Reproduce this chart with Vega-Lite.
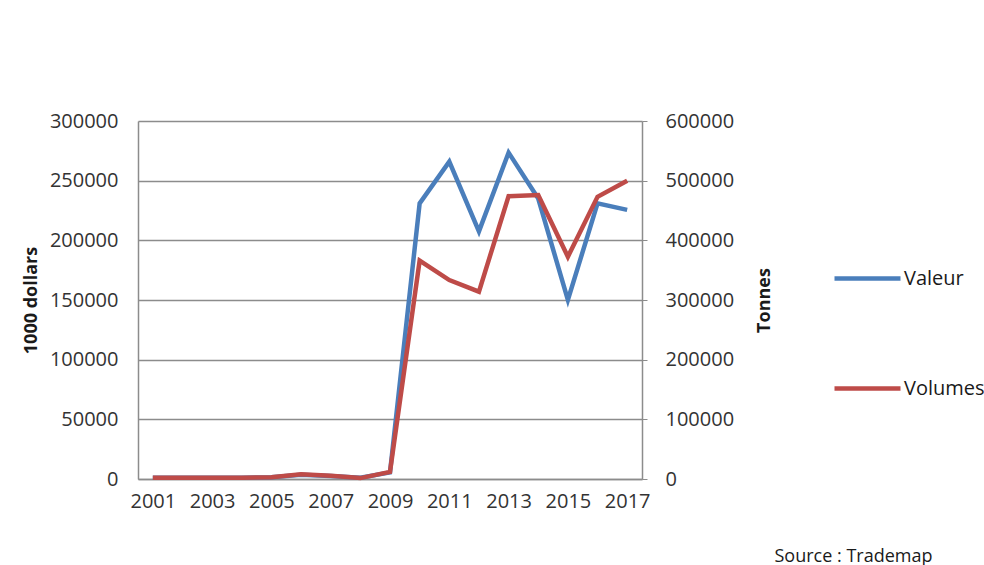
{
  "$schema": "https://vega.github.io/schema/vega-lite/v6.json",
  "width": 504,
  "height": 358,
  "autosize": {"type": "none"},
  "padding": {"left": 138, "top": 121, "right": 342, "bottom": 86},
  "background": "white",
  "config": {
    "font": "Open Sans",
    "view": {"stroke": null},
    "axis": {"labelFont": "Open Sans", "labelFontSize": 20, "labelColor": "#333333", "titleFont": "Open Sans", "titleColor": "#1a1a1a", "titleFontSize": 18, "titleFontWeight": "bold"}
  },
  "data": {
    "values": [
      {"annee": 2001, "serie": "Valeur", "valeur": 1000},
      {"annee": 2002, "serie": "Valeur", "valeur": 1000},
      {"annee": 2003, "serie": "Valeur", "valeur": 1000},
      {"annee": 2004, "serie": "Valeur", "valeur": 1000},
      {"annee": 2005, "serie": "Valeur", "valeur": 1500},
      {"annee": 2006, "serie": "Valeur", "valeur": 3500},
      {"annee": 2007, "serie": "Valeur", "valeur": 2500},
      {"annee": 2008, "serie": "Valeur", "valeur": 1000},
      {"annee": 2009, "serie": "Valeur", "valeur": 5500},
      {"annee": 2010, "serie": "Valeur", "valeur": 231000},
      {"annee": 2011, "serie": "Valeur", "valeur": 266000},
      {"annee": 2012, "serie": "Valeur", "valeur": 207500},
      {"annee": 2013, "serie": "Valeur", "valeur": 273500},
      {"annee": 2014, "serie": "Valeur", "valeur": 235000},
      {"annee": 2015, "serie": "Valeur", "valeur": 150000},
      {"annee": 2016, "serie": "Valeur", "valeur": 231000},
      {"annee": 2017, "serie": "Valeur", "valeur": 225500},
      {"annee": 2001, "serie": "Volumes", "valeur": 2000},
      {"annee": 2002, "serie": "Volumes", "valeur": 2000},
      {"annee": 2003, "serie": "Volumes", "valeur": 2000},
      {"annee": 2004, "serie": "Volumes", "valeur": 2000},
      {"annee": 2005, "serie": "Volumes", "valeur": 3000},
      {"annee": 2006, "serie": "Volumes", "valeur": 8000},
      {"annee": 2007, "serie": "Volumes", "valeur": 5500},
      {"annee": 2008, "serie": "Volumes", "valeur": 1500},
      {"annee": 2009, "serie": "Volumes", "valeur": 12000},
      {"annee": 2010, "serie": "Volumes", "valeur": 366000},
      {"annee": 2011, "serie": "Volumes", "valeur": 333500},
      {"annee": 2012, "serie": "Volumes", "valeur": 314000},
      {"annee": 2013, "serie": "Volumes", "valeur": 474000},
      {"annee": 2014, "serie": "Volumes", "valeur": 476000},
      {"annee": 2015, "serie": "Volumes", "valeur": 372500},
      {"annee": 2016, "serie": "Volumes", "valeur": 473000},
      {"annee": 2017, "serie": "Volumes", "valeur": 500000}
    ]
  },
  "encoding": {
    "x": {
      "field": "annee",
      "type": "ordinal",
      "scale": {"type": "point", "padding": 0.5},
      "axis": {
        "values": [2001, 2003, 2005, 2007, 2009, 2011, 2013, 2015, 2017],
        "labelAngle": 0,
        "labelPadding": 12,
        "ticks": false,
        "domainColor": "#8c8c8c",
        "domainWidth": 1.5,
        "title": "Source : Trademap",
        "titleFontWeight": "normal",
        "titleFontSize": 18,
        "titleColor": "#1a1a1a",
        "titleAnchor": "start",
        "titleAlign": "left",
        "titleX": 636,
        "titleY": 68
      }
    },
    "color": {
      "field": "serie",
      "type": "nominal",
      "scale": {"domain": ["Valeur", "Volumes"], "range": ["#4a7ebb", "#be4b48"]},
      "legend": {
        "title": null,
        "orient": "none",
        "legendX": 694,
        "legendY": 122,
        "symbolType": "stroke",
        "symbolSize": 4356,
        "symbolStrokeWidth": 4.5,
        "labelFont": "Open Sans",
        "labelFontSize": 20,
        "labelColor": "#1a1a1a",
        "labelOffset": 1,
        "rowPadding": 64,
        "labelLimit": 300
      }
    }
  },
  "layer": [
    {
      "transform": [{"filter": "datum.serie == 'Valeur'"}],
      "mark": {"type": "line", "strokeWidth": 4.5},
      "encoding": {
        "y": {
          "field": "valeur",
          "type": "quantitative",
          "scale": {"domain": [0, 300000], "nice": false},
          "axis": {
            "title": "1000 dollars",
            "values": [0, 50000, 100000, 150000, 200000, 250000, 300000],
            "format": "d",
            "ticks": false,
            "labelPadding": 20,
            "titlePadding": 9,
            "domainColor": "#8c8c8c",
            "domainWidth": 1.5,
            "grid": true,
            "gridColor": "#8c8c8c",
            "gridWidth": 1.5
          }
        }
      }
    },
    {
      "transform": [{"filter": "datum.serie == 'Volumes'"}],
      "mark": {"type": "line", "strokeWidth": 4.5},
      "encoding": {
        "y": {
          "field": "valeur",
          "type": "quantitative",
          "scale": {"domain": [0, 600000], "nice": false},
          "axis": {
            "orient": "right",
            "title": "Tonnes",
            "titleAngle": 270,
            "values": [0, 100000, 200000, 300000, 400000, 500000, 600000],
            "format": "d",
            "ticks": true,
            "tickSize": 5,
            "tickColor": "#8c8c8c",
            "labelPadding": 18,
            "titlePadding": 40,
            "domainColor": "#8c8c8c",
            "domainWidth": 1.5,
            "grid": false
          }
        }
      }
    }
  ],
  "resolve": {"scale": {"y": "independent"}}
}
